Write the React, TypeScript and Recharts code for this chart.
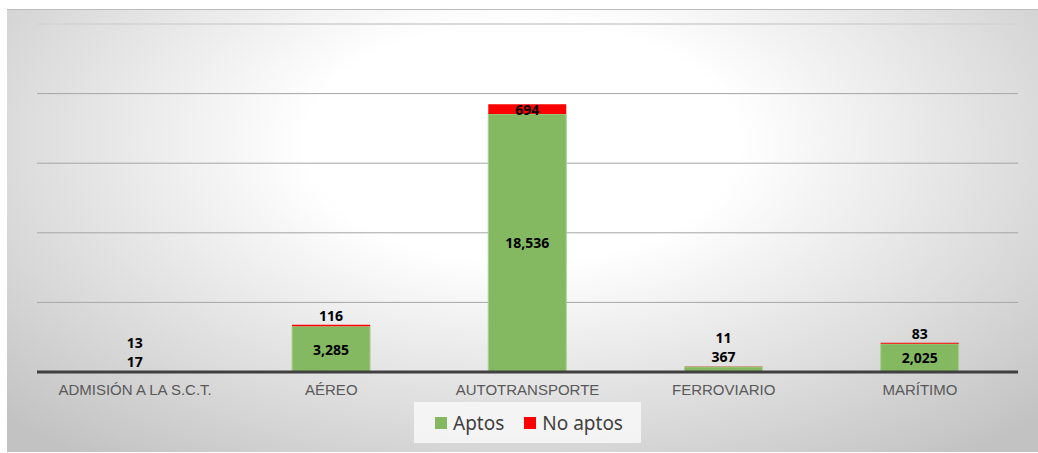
import React from 'react';
import {
  BarChart,
  Bar,
  XAxis,
  YAxis,
  CartesianGrid,
  Legend,
  LabelList,
  ReferenceLine,
} from 'recharts';

const categories = ['ADMISIÓN A LA S.C.T.', 'AÉREO', 'AUTOTRANSPORTE', 'FERROVIARIO', 'MARÍTIMO'];
const aptos = [17, 3285, 18536, 367, 2025];
const noAptos = [13, 116, 694, 11, 83];
const yTicks = [0, 5000, 10000, 15000, 20000];

const GREEN = '#84b962';
const RED = '#ff0000';

const data = categories.map((c, i) => ({ name: c, Aptos: aptos[i], 'No aptos': noAptos[i] }));

const fmt = (v: number) => v.toLocaleString('en-US');

const labelStyle = {
  fontFamily: '"Noto Sans", sans-serif',
  fontWeight: 700,
  fontSize: 14,
  fill: '#000',
};

const AptosLabel = (props: any) => {
  const { x, y, width, height, value } = props;
  const cx = Number(x) + Number(width) / 2;
  const cy = Number(height) >= 20 ? Number(y) + Number(height) / 2 : Number(y) - 10;
  return (
    <text x={cx} y={cy} textAnchor="middle" dominantBaseline="central" style={labelStyle}>
      {fmt(Number(value))}
    </text>
  );
};

const NoAptosLabel = (props: any) => {
  const { x, y, width, height, value, index } = props;
  const cx = Number(x) + Number(width) / 2;
  const greenSmall = aptos[index] < 1200;
  let cy: number;
  if (Number(height) >= 8) cy = Number(y) + Number(height) / 2;
  else if (greenSmall) cy = Number(y) - 29;
  else cy = Number(y) - 9;
  return (
    <text x={cx} y={cy} textAnchor="middle" dominantBaseline="central" style={labelStyle}>
      {fmt(Number(value))}
    </text>
  );
};

const LegendBox = () => (
  <div style={{ display: 'flex', justifyContent: 'center', height: 50 }}>
    <div
      style={{
        display: 'flex',
        alignItems: 'center',
        height: 41,
        padding: '0 18px 0 21px',
        background: 'rgba(248,248,248,0.85)',
        fontFamily: '"Noto Sans", sans-serif',
        fontSize: 19,
        color: '#404040',
      }}
    >
      {[
        { label: 'Aptos', color: GREEN },
        { label: 'No aptos', color: RED },
      ].map((it, i) => (
        <span key={it.label} style={{ display: 'flex', alignItems: 'center', marginLeft: i ? 20 : 0 }}>
          <span style={{ width: 12, height: 12, background: it.color, marginRight: 6, display: 'inline-block' }} />
          {it.label}
        </span>
      ))}
    </div>
  </div>
);

export default function App() {
  return (
    <div
      style={{
        position: 'absolute',
        left: 7,
        top: 9,
        width: 1031,
        height: 443,
        background: 'radial-gradient(ellipse 70% 90% at 50% 30%, #ffffff 30%, #c2c2c2 100%)',
        borderTop: '1px solid #bcbcbc',
        boxSizing: 'border-box',
      }}
    >
      <BarChart
        width={1031}
        height={442}
        data={data}
        margin={{ top: 14, right: 20, left: 30, bottom: 0 }}
        barCategoryGap="30%"
      >
        <CartesianGrid vertical={false} stroke="#a6a6a6" />
        <ReferenceLine y={25000} stroke="#dcdcdc" strokeWidth={1.5} />
        <XAxis
          dataKey="name"
          height={30}
          tickLine={false}
          axisLine={{ stroke: '#404040', strokeWidth: 3 }}
          tick={{ fontFamily: '"Liberation Sans", Arial, sans-serif', fontSize: 15, fill: '#595959' }}
          tickMargin={6}
          interval={0}
        />
        <YAxis hide domain={[0, 25000]} ticks={yTicks} />
        <Legend content={<LegendBox />} verticalAlign="bottom" height={50} />
        <Bar dataKey="Aptos" stackId="a" fill={GREEN} stroke="#a9cf91" strokeWidth={1} isAnimationActive={false}>
          <LabelList dataKey="Aptos" content={<AptosLabel />} />
        </Bar>
        <Bar dataKey="No aptos" stackId="a" fill={RED} isAnimationActive={false}>
          <LabelList dataKey="No aptos" content={<NoAptosLabel />} />
        </Bar>
      </BarChart>
    </div>
  );
}
